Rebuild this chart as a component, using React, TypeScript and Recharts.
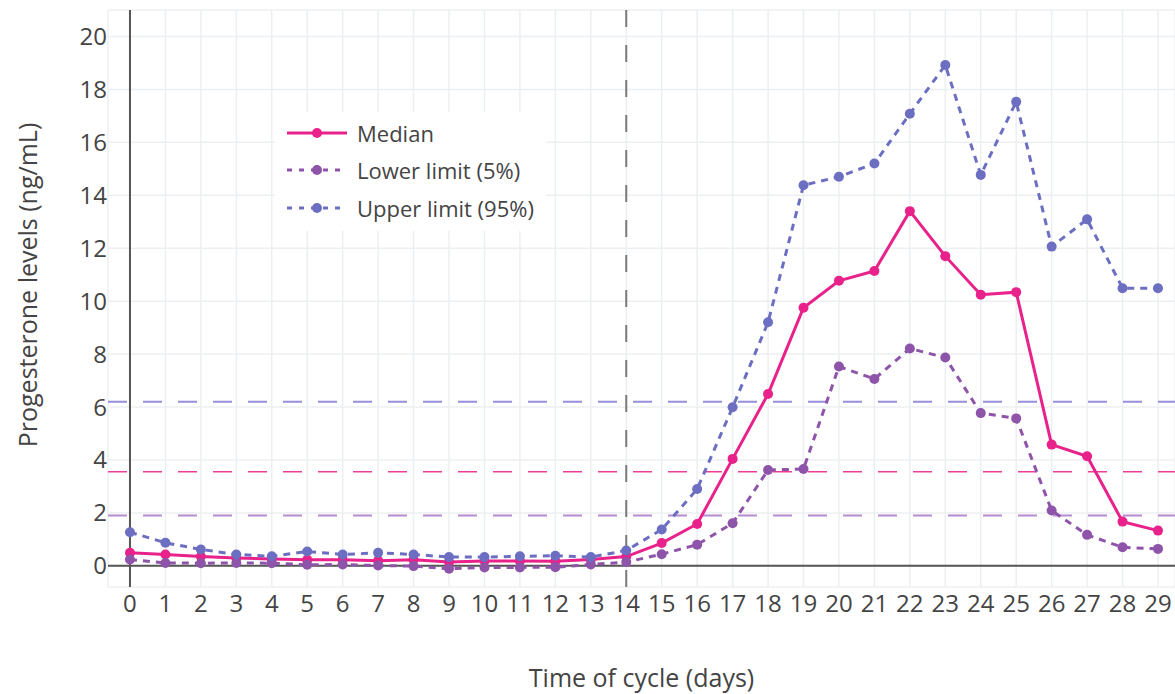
import { LineChart, Line, XAxis, YAxis, CartesianGrid, ReferenceLine, Legend, Label } from 'recharts'

const days = [0, 1, 2, 3, 4, 5, 6, 7, 8, 9, 10, 11, 12, 13, 14, 15, 16, 17, 18, 19, 20, 21, 22, 23, 24, 25, 26, 27, 28, 29]
const median = [0.49, 0.43, 0.35, 0.3, 0.26, 0.23, 0.23, 0.19, 0.23, 0.14, 0.18, 0.18, 0.17, 0.24, 0.35, 0.86, 1.58, 4.04, 6.49, 9.75, 10.77, 11.14, 13.4, 11.7, 10.24, 10.34, 4.58, 4.14, 1.67, 1.33]
const lower = [0.24, 0.11, 0.1, 0.11, 0.1, 0.04, 0.05, 0.01, -0.01, -0.11, -0.06, -0.06, -0.05, 0.05, 0.14, 0.44, 0.8, 1.61, 3.62, 3.66, 7.53, 7.06, 8.21, 7.87, 5.77, 5.57, 2.09, 1.17, 0.7, 0.64]
const upper = [1.27, 0.87, 0.62, 0.43, 0.36, 0.54, 0.43, 0.49, 0.43, 0.33, 0.33, 0.36, 0.38, 0.33, 0.58, 1.37, 2.9, 5.99, 9.2, 14.38, 14.7, 15.2, 17.08, 18.92, 14.77, 17.53, 12.06, 13.09, 10.49, 10.49]
const yTicks = [0, 2, 4, 6, 8, 10, 12, 14, 16, 18, 20]

// reference thresholds (dashed horizontal lines) and ovulation day
const upperThreshold = 6.2
const medianThreshold = 3.55
const lowerThreshold = 1.9
const ovulationDay = 14

const FONT = '"Open Sans", "Noto Sans", sans-serif'
const TEXT = '#444'

const series = [
  { key: 'median', name: 'Median', color: '#e8228a', dash: undefined as string | undefined },
  { key: 'lower', name: 'Lower limit (5%)', color: '#8e54a9', dash: '7 6' },
  { key: 'upper', name: 'Upper limit (95%)', color: '#6c6fc1', dash: '7 6' },
]

const data = days.map((d, i) => ({ day: d, median: median[i], lower: lower[i], upper: upper[i] }))

function LegendBox() {
  return (
    <div style={{ background: '#fff', padding: '2px 12px 4px 12px', fontFamily: FONT, fontSize: 22, color: TEXT }}>
      {series.map(s => (
        <div key={s.key} style={{ display: 'flex', alignItems: 'center', height: 37.5 }}>
          <svg width={60} height={14}>
            <line x1={0} y1={7} x2={60} y2={7} stroke={s.color} strokeWidth={3}
              strokeDasharray={s.dash ? '5 7' : undefined} />
            <circle cx={30} cy={7} r={5} fill={s.color} />
          </svg>
          <span style={{ marginLeft: 10 }}>{s.name}</span>
        </div>
      ))}
    </div>
  )
}

export default function App() {
  return (
    <div style={{ position: 'absolute', left: 0, top: 0 }}>
      <LineChart width={1175} height={694} data={data} margin={{ top: 10, right: 0, left: 0, bottom: 0 }}>
        <CartesianGrid stroke="#eceff1" strokeWidth={1.5} />
        <XAxis dataKey="day" type="number" domain={[-0.62, 29.48]} ticks={days} allowDataOverflow
          axisLine={false} tickLine={false} height={107} interval={0}
          tick={{ fontSize: 24, fill: TEXT, fontFamily: FONT }}>
          <Label value="Time of cycle (days)" position="insideBottom" offset={7}
            style={{ fontSize: 25, fill: TEXT, fontFamily: FONT }} />
        </XAxis>
        <YAxis type="number" domain={[-0.8, 21]} ticks={yTicks} allowDataOverflow width={108}
          axisLine={false} tickLine={false} tickSize={0} tickMargin={1}
          tick={{ fontSize: 24, fill: TEXT, fontFamily: FONT }}>
          <Label content={() => (
            <text x={27} y={285} transform="rotate(-90 27 285)" textAnchor="middle" dominantBaseline="central"
              style={{ fontSize: 25, fill: TEXT, fontFamily: FONT }}>Progesterone levels (ng/mL)</text>
          )} />
        </YAxis>
        <ReferenceLine y={upperThreshold} stroke="#958fdc" strokeWidth={2} strokeDasharray="19 16" />
        <ReferenceLine y={medianThreshold} stroke="#ee3d96" strokeWidth={1.5} strokeDasharray="19 16" />
        <ReferenceLine y={lowerThreshold} stroke="#b78bd0" strokeWidth={2} strokeDasharray="19 16" />
        <ReferenceLine x={0} stroke="#555" strokeWidth={2} />
        <ReferenceLine y={0} stroke="#555" strokeWidth={2} />
        <ReferenceLine x={ovulationDay} stroke="#7a7a7a" strokeWidth={2} strokeDasharray="17 18" />
        {series.map(s => (
          <Line key={s.key} dataKey={s.key} name={s.name} stroke={s.color} strokeWidth={3}
            strokeDasharray={s.dash} dot={{ r: 5, fill: s.color, stroke: s.color, strokeWidth: 0 }}
            activeDot={false} isAnimationActive={false} />
        ))}
        <Legend layout="vertical" align="center" verticalAlign="middle" content={() => <LegendBox />}
          wrapperStyle={{ position: 'absolute', left: 275, top: 112, width: 'auto', height: 'auto' }} />
      </LineChart>
    </div>
  )
}
